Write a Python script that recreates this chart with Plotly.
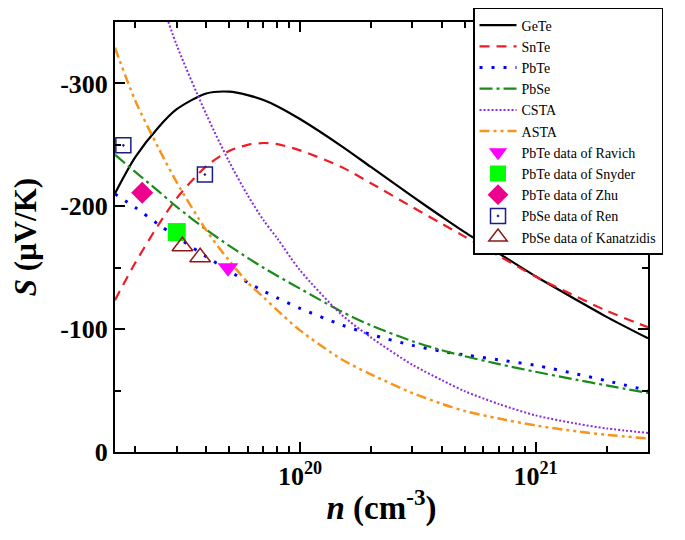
import plotly.graph_objects as go

# carrier concentration grid (cm^-3)
n_grid = [1.64e19, 2e19, 2.5e19, 3e19, 4e19, 5e19, 6e19, 7e19, 8e19, 1e20,
          1.5e20, 2e20, 3e20, 4e20, 5e20, 7e20, 1e21, 1.5e21, 2e21, 3e21]

S_GeTe = [-210.5, -240, -264, -279, -291.8, -293.3, -290.5, -286.5, -281.5, -271,
          -249, -232, -208, -191.5, -179, -161.5, -143, -123.5, -110, -92.5]
S_SnTe = [-123.6, -154, -184.5, -206.6, -232.5, -245, -250, -251.5, -250.6, -245.5,
          -232, -218.8, -199.3, -185.8, -175.3, -159.5, -142.8, -126.2, -115, -101.5]
S_PbTe = [-210, -199, -185.4, -175, -159, -147.5, -138, -131, -125.5, -117,
          -103.5, -95.7, -86.8, -82, -79, -75, -70.5, -63.4, -58, -50]
S_PbSe = [-242, -228, -212.5, -199.5, -181, -168, -158, -150, -143.5, -133,
          -114.3, -103.1, -90.2, -82.8, -78, -71.5, -65.3, -58.7, -54.2, -48]
n_CSTA = [2.5e19, 3e19, 4e19, 5e19, 6e19, 7e19, 8e19, 1e20, 1.5e20, 2e20,
          3e20, 4e20, 5e20, 7e20, 1e21, 1.5e21, 2e21, 3e21]
S_CSTA = [-375, -331, -275, -236.5, -209, -188.7, -174, -148, -111.9, -93.3,
          -71, -58.5, -49.5, -39, -29.8, -23, -19.2, -15.5]
S_ASTA = [-329, -286, -248, -219.5, -180.5, -155.8, -138, -126, -115.5, -99,
          -75.5, -63.2, -48, -39.2, -33.4, -27.2, -21.6, -16.8, -14, -11]

# experimental data
n_Ravich, S_Ravich = [4.95e19], [-150]
n_Snyder, S_Snyder = [3.0e19], [-179]
n_Zhu, S_Zhu = [2.14e19], [-211]
n_Ren, S_Ren = [1.78e19, 3.95e19], [-249.6, -225.8]
n_Kan, S_Kan = [3.17e19, 3.77e19], [-167.5, -158.5]

x_tickvals = [1e20, 1e21]
x_ticktext = ["10<sup>20</sup>", "10<sup>21</sup>"]
x_minor = [float(m) * 10.0 ** e for e in (19, 20, 21) for m in range(2, 10)]
y_tickvals = [0, -100, -200, -300]
y_ticktext = ["0", "-100", "-200", "-300"]
y_minor = [-50, -150, -250]

FONT = "Liberation Serif, Times New Roman, serif"

fig = go.Figure()

def line(x, y, name, color, dash, width=2):
    fig.add_trace(go.Scatter(x=x, y=y, name=name, mode="lines",
                             line=dict(color=color, dash=dash, width=width,
                                       shape="spline", smoothing=0.8)))

line(n_grid, S_GeTe, "GeTe", "black", "solid", 2.2)
line(n_grid, S_SnTe, "SnTe", "#ee1c24", "10px,7px", 2.2)
line(n_grid, S_PbTe, "PbTe", "#0000ff", "3px,9px", 3)
line(n_grid, S_PbSe, "PbSe", "#1a8a1a", "13px,4px,3px,4px", 2.2)
line(n_CSTA, S_CSTA, "CSTA", "#8a2be2", "2px,2px", 2)
line(n_grid, S_ASTA, "ASTA", "#f7941d", "10px,4px,3px,4px,3px,4px", 2.5)

def pts(x, y, name, symbol, size, color, lw=0, lcolor=None):
    fig.add_trace(go.Scatter(x=x, y=y, name=name, mode="markers",
                             marker=dict(symbol=symbol, size=size, color=color,
                                         line=dict(width=lw, color=lcolor or color))))

pts(n_Ravich, S_Ravich, "PbTe data of Ravich", "triangle-down", 18, "#ff00ff")
pts(n_Snyder, S_Snyder, "PbTe data of Snyder", "square", 18, "#00ff00")
pts(n_Zhu, S_Zhu, "PbTe data of Zhu", "diamond", 17, "#ec008c")
pts(n_Ren, S_Ren, "PbSe data of Ren", "square-open-dot", 15, "#1b1b8a", 1.5)
pts(n_Kan, S_Kan, "PbSe data of Kanatzidis", "triangle-up-open", 18, "#8b1a1a", 1.5)

fig.update_layout(
    width=677, height=532,
    margin=dict(l=107, r=37, t=14, b=88, autoexpand=False),
    plot_bgcolor="white", paper_bgcolor="white",
    font=dict(family=FONT, color="black"),
    legend=dict(x=0.6717, y=1.0326, xanchor="left", yanchor="top",
                bgcolor="white", bordercolor="black", borderwidth=1.5,
                font=dict(family=FONT, size=14, color="black"),
                tracegroupgap=0, itemwidth=37),
)

fig.update_xaxes(
    type="log", range=[19.215, 21.477],
    tickmode="array", tickvals=x_tickvals, ticktext=x_ticktext,
    ticks="inside", ticklen=10, tickwidth=2, tickcolor="black",
    showline=True, linewidth=2, linecolor="black", mirror="allticks",
    showgrid=False, zeroline=False,
    tickfont=dict(family=FONT, size=26, weight="bold"),
    minor=dict(tickmode="array", tickvals=x_minor, ticks="inside", ticklen=6,
               tickwidth=1.5, tickcolor="black", showgrid=False),
    title=dict(text="<b><i>n</i> (cm<sup>-3</sup>)</b>",
               font=dict(family=FONT, size=33), standoff=6),
)
fig.update_yaxes(
    range=[0, -350],
    tickmode="array", tickvals=y_tickvals, ticktext=y_ticktext,
    ticks="inside", ticklen=10, tickwidth=2, tickcolor="black",
    showline=True, linewidth=2, linecolor="black", mirror="allticks",
    showgrid=False, zeroline=False,
    tickfont=dict(family=FONT, size=26, weight="bold"),
    minor=dict(tickmode="array", tickvals=y_minor, ticks="inside", ticklen=6,
               tickwidth=1.5, tickcolor="black", showgrid=False),
    title=dict(text="<b><i>S</i> (μV/K)</b>",
               font=dict(family=FONT, size=31), standoff=22),
)

fig.write_html("out.html")
